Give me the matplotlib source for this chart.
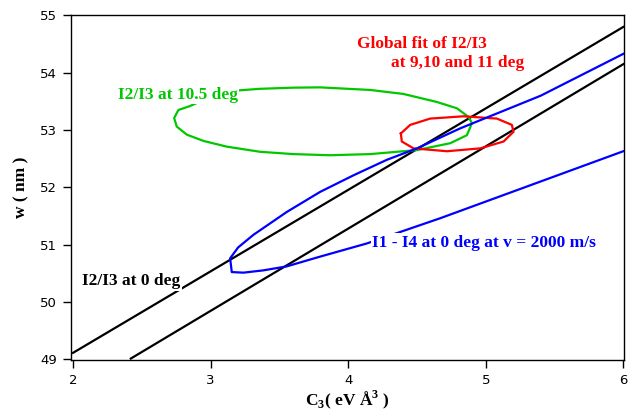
import matplotlib.pyplot as plt

plt.rcParams['mathtext.fontset'] = 'custom'
plt.rcParams['mathtext.rm'] = 'Liberation Serif'
plt.rcParams['mathtext.bf'] = 'Liberation Serif:bold'

# straight-line solutions for I2/I3 at 0 deg
line1_x = [2.0, 6.0]
line1_w = [49.11, 54.80]
line2_x = [2.42, 6.0]
line2_w = [49.01, 54.15]

# I1 - I4 at 0 deg, v = 2000 m/s (closed contour, very elongated)
blue_x = [6.0, 5.4, 4.815, 4.5, 4.281, 4.039, 3.796, 3.554, 3.311, 3.2, 3.142,
          3.154, 3.239, 3.384, 3.554, 3.796, 4.136, 4.378, 4.669, 6.0]
blue_w = [54.33, 53.60, 53.03, 52.68, 52.48, 52.21, 51.92, 51.57, 51.17, 50.95, 50.76,
          50.52, 50.51, 50.55, 50.62, 50.79, 51.02, 51.22, 51.46, 52.63]

# I2/I3 at 10.5 deg
green_x = [3.19, 3.36, 3.602, 3.796, 4.16, 4.402, 4.645, 4.79, 4.875, 4.9, 4.863, 4.742,
           4.499, 4.16, 3.869, 3.602, 3.36, 3.118, 2.948, 2.827, 2.754, 2.735, 2.766,
           2.851, 3.0, 3.19]
green_w = [53.69, 53.72, 53.74, 53.745, 53.70, 53.63, 53.49, 53.38, 53.23, 53.12, 52.91, 52.77,
           52.65, 52.58, 52.56, 52.58, 52.62, 52.71, 52.81, 52.92, 53.06, 53.21, 53.35,
           53.42, 53.58, 53.69]

# global fit of I2/I3 at 9, 10 and 11 deg
red_x = [4.383, 4.39, 4.475, 4.718, 4.96, 5.13, 5.202, 5.19, 5.081, 4.839, 4.596, 4.451, 4.383]
red_w = [52.94, 52.80, 52.68, 52.63, 52.68, 52.80, 52.97, 53.09, 53.20, 53.24, 53.20, 53.09, 52.94]

xticks = [2, 3, 4, 5, 6]
yticks = [49, 50, 51, 52, 53, 54, 55]

serif = ['Liberation Serif', 'DejaVu Serif']
fs = 12.5

fig = plt.figure(figsize=(6.32, 4.11), dpi=100)
ax = fig.add_axes([0.1123, 0.1241, 0.875, 0.8382])

lw = 1.6
ax.plot(line1_x, line1_w, color='black', lw=lw, zorder=2)
ax.plot(line2_x, line2_w, color='black', lw=lw, zorder=2)
ax.plot(green_x, green_w, color='#00c800', lw=lw, zorder=2)
ax.plot(red_x, red_w, color='#ff0000', lw=lw, zorder=3)
ax.plot(blue_x, blue_w, color='#0000ff', lw=lw, zorder=4)

box = dict(facecolor='white', edgecolor='none', pad=1)
ax.text(2.327, 53.61, 'I2/I3 at 10.5 deg', color='#00c800', fontsize=fs, fontweight='bold',
        family=serif, ha='left', va='center', bbox=box, zorder=5)
ax.text(4.065, 54.50, 'Global fit of I2/I3', color='#ff0000', fontsize=fs, fontweight='bold',
        family=serif, ha='left', va='center', zorder=5)
ax.text(4.313, 54.17, 'at 9,10 and 11 deg', color='#ff0000', fontsize=fs, fontweight='bold',
        family=serif, ha='left', va='center', zorder=5)
ax.text(4.175, 51.03, 'I1 - I4 at 0 deg at v = 2000 m/s', color='#0000ff', fontsize=fs,
        fontweight='bold', family=serif, ha='left', va='center', bbox=box, zorder=5)
ax.text(2.065, 50.36, 'I2/I3 at 0 deg', color='black', fontsize=fs, fontweight='bold',
        family=serif, ha='left', va='center', bbox=box, zorder=5)

ax.set_xlim(1.985, 6.005)
ax.set_ylim(48.985, 55.0)
ax.set_xticks(xticks)
ax.set_yticks(yticks)
ax.tick_params(direction='out', length=6, width=1, labelsize=9.5, pad=4)
for s in ax.spines.values():
    s.set_linewidth(1)

ax.set_xlabel(r'C$_\mathbf{3}$( eV Å$^\mathbf{3}$ )', fontsize=fs, fontweight='bold',
              family=serif, labelpad=1)
ax.set_ylabel('w ( nm )', fontsize=fs, fontweight='bold', family=serif, labelpad=8)

fig.savefig('out.png', dpi=100)
